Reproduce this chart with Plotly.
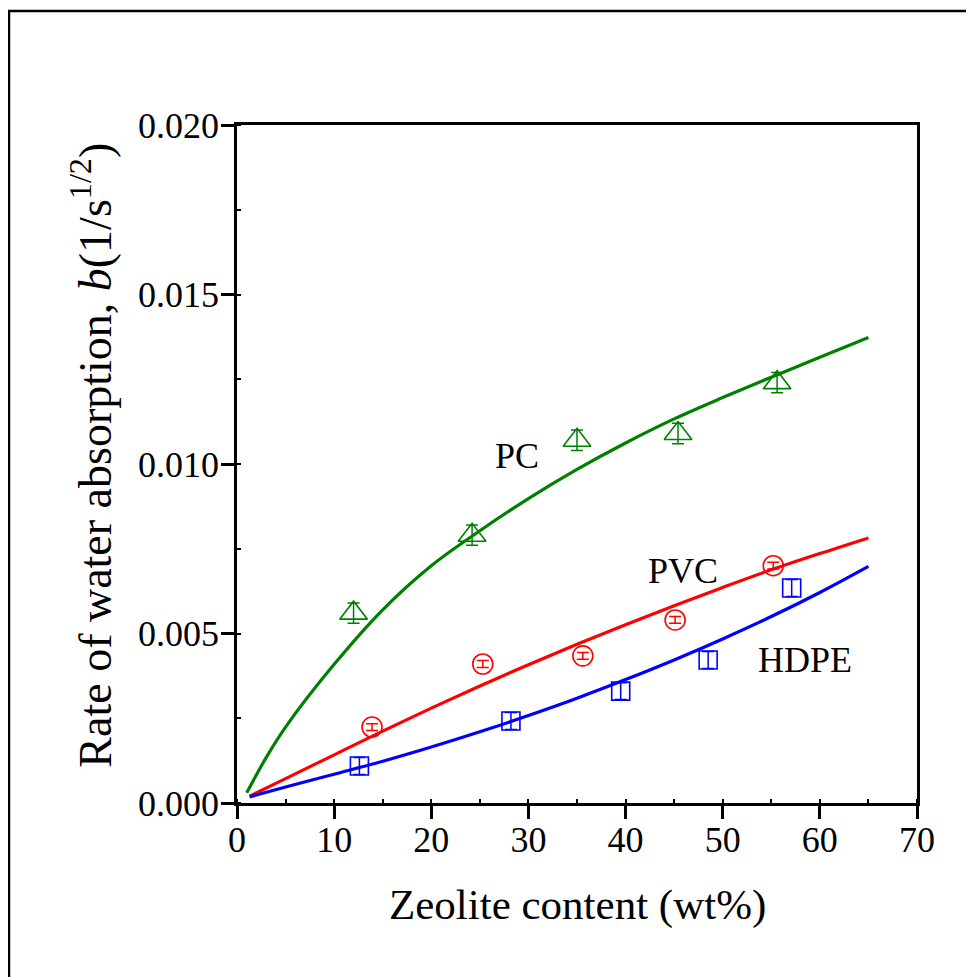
import plotly.graph_objects as go

# ---- data ----
pc_x = [12.0, 24.2, 35.0, 45.4, 55.6]
pc_y = [0.0056, 0.0079, 0.0107, 0.0109, 0.0124]
pc_err = [0.0003, 0.0003, 0.0003, 0.0003, 0.0003]

pvc_x = [13.9, 25.3, 35.6, 45.1, 55.2]
pvc_y = [0.00224, 0.0041, 0.00434, 0.0054, 0.0070]
pvc_err = [0.0001, 0.0001, 0.0001, 0.0001, 0.0001]

hdpe_x = [12.6, 28.2, 39.5, 48.5, 57.1]
hdpe_y = [0.00109, 0.00242, 0.00330, 0.00422, 0.00634]
hdpe_err = [0.00025, 0.00025, 0.00025, 0.00025, 0.00025]

fit_pc_x = [1, 3, 5, 10, 15, 20, 25, 30, 35, 40, 45, 50, 55, 60, 65]
fit_pc_y = [0.00030, 0.00134, 0.00224, 0.00409, 0.00570, 0.00700, 0.00803, 0.00898,
            0.00984, 0.01062, 0.01133, 0.01196, 0.01256, 0.01315, 0.01373]

fit_pvc_x = [1.3, 5, 10, 15, 20, 25, 30, 35, 40, 45, 50, 55, 60, 65]
fit_pvc_y = [0.00020, 0.00072, 0.00142, 0.00212, 0.00280, 0.00345, 0.00408, 0.00468,
             0.00526, 0.00582, 0.00636, 0.00688, 0.00736, 0.00782]

fit_hdpe_x = [1.3, 5, 10, 15, 20, 25, 30, 35, 40, 45, 50, 55, 60, 65]
fit_hdpe_y = [0.00018, 0.00047, 0.00085, 0.00123, 0.00165, 0.00210, 0.00258, 0.00309,
              0.00364, 0.00422, 0.00484, 0.00550, 0.00621, 0.00698]

x_ticks = [0, 10, 20, 30, 40, 50, 60, 70]
y_ticks = [0.0, 0.005, 0.010, 0.015, 0.020]
y_ticktext = ["0.000", "0.005", "0.010", "0.015", "0.020"]

labels = ["PC", "PVC", "HDPE"]
label_x = [28.8, 45.9, 58.5]
label_y = [0.01024, 0.00684, 0.00422]

GREEN = "#008000"
RED = "#ff0000"
BLUE = "#0000ff"
FONT = "Liberation Serif, Times New Roman, serif"

fig = go.Figure()

# fitted curves
for fx, fy, c in [(fit_pc_x, fit_pc_y, GREEN), (fit_pvc_x, fit_pvc_y, RED), (fit_hdpe_x, fit_hdpe_y, BLUE)]:
    fig.add_trace(go.Scatter(x=fx, y=fy, mode="lines", line=dict(color=c, width=3.2, shape="spline"),
                             showlegend=False, hoverinfo="skip"))

# data points with error bars
fig.add_trace(go.Scatter(x=pc_x, y=pc_y, mode="markers",
                         marker=dict(symbol="triangle-up-open", size=24, color=GREEN, line=dict(width=1.6, color=GREEN)),
                         error_y=dict(type="data", array=pc_err, color=GREEN, thickness=1.5, width=6),
                         showlegend=False))
fig.add_trace(go.Scatter(x=pvc_x, y=pvc_y, mode="markers",
                         marker=dict(symbol="circle-open", size=20, color=RED, line=dict(width=1.6, color=RED)),
                         error_y=dict(type="data", array=pvc_err, color=RED, thickness=1.5, width=6),
                         showlegend=False))
fig.add_trace(go.Scatter(x=hdpe_x, y=hdpe_y, mode="markers",
                         marker=dict(symbol="square-open", size=18, color=BLUE, line=dict(width=1.6, color=BLUE)),
                         error_y=dict(type="data", array=hdpe_err, color=BLUE, thickness=1.5, width=6),
                         showlegend=False))

annotations = []
for t, ax_, ay_ in zip(labels, label_x, label_y):
    annotations.append(dict(x=ax_, y=ay_, xref="x", yref="y", text=t, showarrow=False,
                            font=dict(family=FONT, size=36, color="black")))

annotations.append(dict(x=-0.214, y=0.513, xref="paper", yref="paper", textangle=-90,
                        text="Rate of water absorption, <i>b</i>(1/s<sup>1/2</sup>)", showarrow=False,
                        xanchor="center", yanchor="middle",
                        font=dict(family=FONT, size=46, color="black")))
annotations.append(dict(x=0.5, y=-0.150, xref="paper", yref="paper",
                        text="Zeolite content (wt%)", showarrow=False,
                        xanchor="center", yanchor="middle",
                        font=dict(family=FONT, size=43, color="black")))

fig.update_layout(
    width=966, height=969,
    margin=dict(l=229, r=57, t=117, b=174),
    paper_bgcolor="white", plot_bgcolor="white",
    font=dict(family=FONT, color="black"),
    annotations=annotations,
    shapes=[dict(type="rect", xref="paper", yref="paper", x0=-0.3353, x1=1.3, y0=-0.4, y1=1.168,
                 line=dict(color="black", width=2.5), fillcolor="rgba(0,0,0,0)", layer="above")],
    xaxis=dict(range=[0, 70], tickvals=x_ticks, ticktext=[str(v) for v in x_ticks],
               showgrid=False, zeroline=False, showline=True, linecolor="black", linewidth=2.5,
               mirror=True, ticks="outside", ticklen=13, tickwidth=2.5, tickcolor="black",
               ticklabelstandoff=-10,
               tickfont=dict(family=FONT, size=36, color="black"),
               minor=dict(dtick=5, ticks="inside", ticklen=4, tickwidth=2, tickcolor="black")),
    yaxis=dict(range=[0, 0.020], tickvals=y_ticks, ticktext=y_ticktext,
               showgrid=False, zeroline=False, showline=True, linecolor="black", linewidth=2.5,
               mirror=True, ticks="outside", ticklen=13, tickwidth=2.5, tickcolor="black",
               ticklabelstandoff=-5,
               tickfont=dict(family=FONT, size=36, color="black"),
               minor=dict(dtick=0.0025, ticks="inside", ticklen=4, tickwidth=2, tickcolor="black")),
)

fig.write_html("out.html")
